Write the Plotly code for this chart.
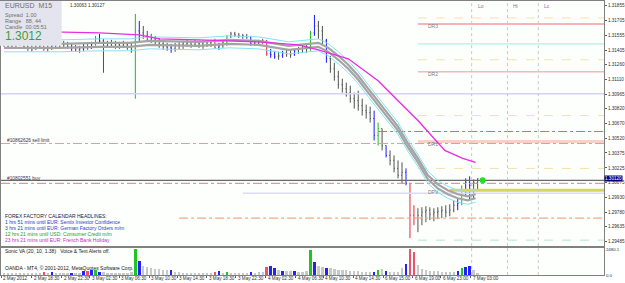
import plotly.graph_objects as go

# ---------------- data ----------------
HIGH = [1.3150,1.3149,1.3148,1.3150,1.3151,1.3149,1.3147,1.3146,1.3148,1.3149,
        1.3148,1.3146,1.3147,1.3148,1.3149,1.3150,1.3149,1.3147,1.3146,1.3145,
        1.3147,1.3148,1.3149,1.3155,1.3157,1.3152,1.3150,1.3151,1.3150,1.3149,
        1.3150,1.3149,1.3148,1.3177,1.3170,1.3165,1.3160,1.3157,1.3155,1.3153,
        1.3150,1.3148,1.3147,1.3148,1.3149,1.3150,1.3151,1.3150,1.3151,1.3150,
        1.3149,1.3150,1.3151,1.3152,1.3148,1.3150,1.3156,1.3159,1.3159,1.3158,
        1.3157,1.3157,1.3155,1.3151,1.3151,1.3152,1.3151,1.3142,1.3140,1.3139,
        1.3140,1.3142,1.3141,1.3142,1.3144,1.3145,1.3146,1.3160,1.3176,1.3170,
        1.3165,1.3152,1.3135,1.3128,1.3120,1.3112,1.3108,1.3105,1.3098,1.3100,
        1.3092,1.3086,1.3084,1.3080,1.3068,1.3062,1.3045,1.3040,1.3035,1.3030,
        1.3028,1.3022,1.3007,1.2985,1.2982,1.2983,1.2984,1.2983,1.2982,1.2983,
        1.2984,1.2985,1.2986,1.2990,1.2992,1.3005,1.3012,1.3014,1.3011,1.3012]
LOW = [1.3144,1.3143,1.3142,1.3144,1.3145,1.3142,1.3140,1.3139,1.3141,1.3143,
       1.3140,1.3139,1.3141,1.3142,1.3143,1.3144,1.3142,1.3140,1.3139,1.3138,
       1.3140,1.3141,1.3142,1.3145,1.3148,1.3118,1.3143,1.3144,1.3142,1.3142,
       1.3143,1.3141,1.3138,1.3092,1.3150,1.3152,1.3150,1.3148,1.3145,1.3143,
       1.3141,1.3140,1.3138,1.3139,1.3141,1.3142,1.3144,1.3143,1.3144,1.3143,
       1.3142,1.3144,1.3144,1.3142,1.3141,1.3143,1.3145,1.3153,1.3154,1.3153,
       1.3152,1.3152,1.3145,1.3145,1.3146,1.3147,1.3135,1.3133,1.3132,1.3131,
       1.3133,1.3134,1.3133,1.3135,1.3137,1.3138,1.3138,1.3140,1.3155,1.3152,
       1.3145,1.3128,1.3118,1.3110,1.3102,1.3098,1.3094,1.3088,1.3082,1.3080,
       1.3075,1.3072,1.3068,1.3050,1.3045,1.3040,1.3033,1.3025,1.3018,1.3012,
       1.3007,1.3005,1.2952,1.2965,1.2958,1.2965,1.2968,1.2970,1.2969,1.2971,
       1.2972,1.2973,1.2974,1.2978,1.2980,1.2985,1.2995,1.2990,1.2992,1.3000]
CLOSE = [1.3147,1.3145,1.3146,1.3148,1.3146,1.3144,1.3143,1.3142,1.3146,1.3145,
         1.3142,1.3143,1.3145,1.3146,1.3147,1.3146,1.3144,1.3143,1.3141,1.3142,
         1.3144,1.3143,1.3147,1.3152,1.3150,1.3145,1.3147,1.3148,1.3146,1.3145,
         1.3146,1.3144,1.3142,1.3160,1.3158,1.3155,1.3154,1.3152,1.3150,1.3147,
         1.3144,1.3143,1.3142,1.3145,1.3146,1.3147,1.3148,1.3146,1.3148,1.3147,
         1.3145,1.3148,1.3149,1.3143,1.3145,1.3148,1.3154,1.3157,1.3156,1.3155,
         1.3155,1.3154,1.3147,1.3148,1.3149,1.3150,1.3137,1.3136,1.3134,1.3135,
         1.3138,1.3137,1.3136,1.3140,1.3142,1.3143,1.3144,1.3158,1.3165,1.3160,
         1.3150,1.3132,1.3122,1.3114,1.3106,1.3102,1.3098,1.3092,1.3090,1.3085,
         1.3080,1.3078,1.3072,1.3055,1.3062,1.3045,1.3035,1.3030,1.3022,1.3015,
         1.3018,1.3007,1.2975,1.2972,1.2975,1.2978,1.2980,1.2976,1.2978,1.2979,
         1.2980,1.2978,1.2980,1.2985,1.2987,1.3000,1.3008,1.3005,1.3008,1.3012]
OPEN_FIRST = 1.3148
BAR_CLASS = ("nnnnnnnnnn" "rnbnnnnbnn" "brbgbnnnnn" "nnngbnnnnn" "nnbnnnnnnn"
             "nnnrbngnnn" "nnbnnnrbbn" "bnnbnnngbn" "nbnnnnnnnn" "nnnbgnbnnn"
             "nbrrnnnnnn" "nnnnbgbbnn")
VOLUME = [180,150,200,170,160,220,190,150,170,200,
          260,180,240,160,150,190,210,230,180,200,
          350,400,450,520,320,300,220,180,200,190,
          210,230,280,2480,1300,820,720,650,600,560,
          500,460,450,300,260,220,200,180,200,170,
          190,160,180,300,350,220,260,200,180,190,
          170,180,260,220,240,250,800,900,700,500,
          420,380,350,400,320,300,380,2400,1200,850,
          760,700,620,560,520,480,450,420,380,350,
          320,300,280,320,500,600,350,300,280,260,
          700,1100,2480,2200,1000,560,480,420,380,340,
          320,300,280,300,420,700,750,820,520,200]

# moving-average ribbon and slow average (sampled along the bars)
RIB_X = [0,14,24,31.5,36.5,49,56.5,64,71.5,76.5,79,81.5,84,86.5,89,91.5,94,96.5,99,
         101.5,104,106.5,109,111.5,114,116.5,118.5]
CYAN_UP = [1.3151,1.3151,1.3152,1.3152,1.3154,1.3153,1.3155,1.3154,1.3149,1.3151,1.3152,
           1.3147,1.3139,1.3130,1.3119,1.3106,1.3093,1.3081,1.3068,1.3051,1.3036,1.3019,
           1.3010,1.3004,1.3000,1.2998,1.3000]
GRAY_UP = [1.3147,1.3147,1.3148,1.3148,1.3150,1.3149,1.3151,1.3150,1.3145,1.3147,1.3148,
           1.3143,1.3135,1.3126,1.3115,1.3102,1.3089,1.3077,1.3064,1.3047,1.3032,1.3015,
           1.3006,1.3000,1.2996,1.2994,1.2996]
GRAY_DN = [1.3143,1.3143,1.3144,1.3144,1.3146,1.3145,1.3147,1.3146,1.3141,1.3143,1.3144,
           1.3139,1.3131,1.3122,1.3111,1.3098,1.3085,1.3073,1.3060,1.3043,1.3028,1.3011,
           1.3002,1.2996,1.2992,1.2990,1.2992]
CYAN_DN = [1.3139,1.3139,1.3140,1.3140,1.3142,1.3141,1.3143,1.3142,1.3137,1.3139,1.3140,
           1.3135,1.3127,1.3118,1.3107,1.3094,1.3081,1.3069,1.3056,1.3039,1.3024,1.3007,
           1.2998,1.2992,1.2988,1.2986,1.2988]
MAG_X = [0,14,24,34,39,49,64,74,79,86.5,94,99,104,110.75,115.25,118.5]
MAG_Y = [1.3160,1.3159,1.3158,1.3156,1.3152,1.3151,1.3149,1.3146,1.3141,1.3132,1.3110,
         1.3090,1.3070,1.3040,1.3032,1.3028]

# horizontal levels: price, start bar, colour, width, dash
LEVEL_PRICE = [1.3173,1.3167,1.3147,1.3131,1.3119,1.3097,1.3075,1.3059,1.3049,1.3047,
               1.3022,1.3010,1.3007,1.3000,1.2997,1.2972,1.2950]
LEVEL_START = [104,104,104,104,104,-1,104,94,104,-1,104,-1,-1,112,60,44,104]
LEVEL_COLOR = ["#f2e2a8","#f6b4b4","#b4efe6","#f2e2a8","#f6b8c0","#d4d4f2","#f2e2a8",
               "#ea6a3a","#f8d2c4","#e49aa0","#f2e2a8","#6a6a6a","#d88090","#d6d65e",
               "#dcdcf4","#f2a888","#b0e6dc"]
LEVEL_WIDTH = [1,2,1.2,1,1.5,1.5,1,1.2,3,1,1,1.2,1,3,1.5,1.2,1]
LEVEL_DASH = ["dash","solid","solid","dash","solid","solid","dash","dashdot","solid","dashdot",
              "dash","solid","dashdot","solid","solid","dashdot","dash"]
LEVEL_LABELS = ["DR3", "DR2", "DR1", "DPV"]
LEVEL_LABEL_PRICE = [1.3165, 1.3117, 1.3046, 1.2998]

Y_TICKS = [1.31855,1.31705,1.31555,1.31405,1.31260,1.31110,1.30965,1.30820,1.30670,
           1.30520,1.30375,1.30225,1.30075,1.29930,1.29780,1.29635,1.29485]
X_LABELS = ["2 May 2012","2 May 18:30","2 May 22:30","3 May 02:30","3 May 06:30",
            "3 May 10:30","3 May 14:30","3 May 18:30","3 May 22:30","4 May 02:30",
            "4 May 06:30","4 May 10:30","4 May 14:30","6 May 15:00","6 May 19:00",
            "6 May 23:00","7 May 03:00"]
X_LABEL_POS = [-0.75,7,14.5,21.5,29,36.5,43.5,51,58.25,65.75,73.25,80.25,87.75,95.25,
               102.75,109.75,117.25]
VLINES = [117.5,126.5,134.25]
VLINE_TXT = ["Lo","Hi","Lc"]
CUR_PRICE = 1.3012
DOT_X, DOT_Y = 120.25, 1.3010

# ---------------- figure ----------------
W, H = 625, 283
ML, MR, MT, MB = 1, 18, 0, 8
PW, PH = W - ML - MR, H - MT - MB
XR = [-0.75, -0.75 + PW / 4.0]
FONT = "Liberation Sans"

def py(ypx):  # paper y from pixel y (plot area)
    return 1 - ypx / PH

def px(xpx):
    return (xpx - ML) / PW

fig = go.Figure()
n = len(CLOSE)
OPEN = [OPEN_FIRST] + CLOSE[:-1]

# levels
for p, s, c, w, d in zip(LEVEL_PRICE, LEVEL_START, LEVEL_COLOR, LEVEL_WIDTH, LEVEL_DASH):
    fig.add_trace(go.Scatter(x=[max(s, XR[0]), XR[1]], y=[p, p], mode="lines",
                             line=dict(color=c, width=w, dash=d), hoverinfo="skip",
                             showlegend=False))
# vertical dotted lines
for v in VLINES:
    fig.add_trace(go.Scatter(x=[v, v], y=[1.2944, 1.3190], mode="lines",
                             line=dict(color="#c8c8c8", width=1, dash="dot"),
                             showlegend=False, hoverinfo="skip"))
    fig.add_trace(go.Scatter(x=[v, v], y=[0, 2600], mode="lines", xaxis="x2", yaxis="y2",
                             line=dict(color="#c8c8c8", width=1, dash="dot"),
                             showlegend=False, hoverinfo="skip"))

# ribbon
for arr, col, wd in [(CYAN_UP, "#86e2f2", 1), (CYAN_DN, "#86e2f2", 1),
                     (GRAY_UP, "#a4a4a4", 2.2), (GRAY_DN, "#a4a4a4", 2.2)]:
    fig.add_trace(go.Scatter(x=RIB_X, y=arr, mode="lines", line=dict(color=col, width=wd),
                             showlegend=False, hoverinfo="skip"))
fig.add_trace(go.Scatter(x=MAG_X, y=MAG_Y, mode="lines", line=dict(color="#e62ee6", width=1.4),
                         showlegend=False, hoverinfo="skip"))

PRICE_COL = {"n": "#505050", "b": "#1a1aff", "r": "#e8283c", "g": "#22b822"}
VOL_COL = {"n": "#c8c8c8", "b": "#2222ff", "r": "#f0506a", "g": "#22c422"}
for k, col in PRICE_COL.items():
    idx = [i for i in range(n) if BAR_CLASS[i] == k]
    fig.add_trace(go.Ohlc(x=idx, open=[OPEN[i] for i in idx], high=[HIGH[i] for i in idx],
                          low=[LOW[i] for i in idx], close=[CLOSE[i] for i in idx],
                          increasing=dict(line=dict(color=col, width=1)),
                          decreasing=dict(line=dict(color=col, width=1)),
                          tickwidth=0.2, showlegend=False, hoverinfo="skip"))

fig.add_trace(go.Scatter(x=[DOT_X], y=[DOT_Y], mode="markers",
                         marker=dict(color="#22e022", size=6), showlegend=False))

fig.add_trace(go.Bar(x=list(range(n)), y=VOLUME, xaxis="x2", yaxis="y2", width=0.6,
                     marker=dict(color=[VOL_COL[c] for c in BAR_CLASS], line=dict(width=0)),
                     showlegend=False, hoverinfo="skip"))

vol_top = 27.0 / PH
fig.update_layout(
    width=W, height=H, margin=dict(l=ML, r=MR, t=MT, b=MB),
    paper_bgcolor="white", plot_bgcolor="#fdfffd",
    font=dict(family=FONT, size=5, color="#303030"),
    xaxis=dict(domain=[0, 1], range=XR, showticklabels=False, ticks="", showgrid=False,
               zeroline=False, showline=True, mirror=True, linecolor="#808080", linewidth=1,
               anchor="y", rangeslider=dict(visible=False)),
    yaxis=dict(domain=[1 - 246.0 / PH, 1], range=[1.2944, 1.3190], side="right",
               tickvals=Y_TICKS, tickformat=".5f", ticks="outside", ticklen=2,
               tickcolor="#606060", tickfont=dict(size=4.6, color="#303030", family=FONT),
               showgrid=False, zeroline=False, showline=True, mirror=True,
               linecolor="#808080", linewidth=1, anchor="x"),
    xaxis2=dict(domain=[0, 1], range=XR, matches="x", anchor="y2", tickvals=X_LABEL_POS,
                ticktext=[""] * len(X_LABEL_POS), ticks="outside", ticklen=2,
                tickcolor="#606060", showgrid=False, zeroline=False, showline=True,
                mirror=True, linecolor="#808080", linewidth=1),
    yaxis2=dict(domain=[0, vol_top], range=[0, 2600], side="right", anchor="x2",
                tickvals=[2480.1, 0], ticktext=["2480.1", "0.0"], ticks="",
                tickfont=dict(size=4.4, color="#303030", family=FONT), showgrid=False,
                zeroline=False, showline=True, mirror=True, linecolor="#808080", linewidth=1),
    bargap=0,
)

ann = []
def A(x, y, t, size=5, color="#303030", xref="paper", yref="paper", xanchor="left",
      yanchor="middle", **kw):
    ann.append(dict(x=x, y=y, text=t, xref=xref, yref=yref, xanchor=xanchor, yanchor=yanchor,
                    showarrow=False, font=dict(size=size, color=color, family=FONT), **kw))

for t, pos in zip(X_LABELS, X_LABEL_POS):
    A(pos, py(279), t, size=4.6, xref="x")
# info box
fig.add_shape(type="rect", xref="paper", yref="paper", x0=px(0), x1=px(62), y0=py(45), y1=1,
              fillcolor="#e4e4ee", line=dict(width=0), layer="above")
A(px(3), py(5), "EURUSD&nbsp;&nbsp;M15", size=7, color="#6e6e6e")
A(px(3), py(14), "Spread&nbsp;&nbsp;1.00", size=5.5, color="#6e6e6e")
A(px(3), py(20), "Range&nbsp;&nbsp;&nbsp;88, 44", size=5.5, color="#6e6e6e")
A(px(3), py(26), "Candle&nbsp;&nbsp;00:05:51", size=5.5, color="#6e6e6e")
A(px(3), py(35), "1.3012", size=12, color="#3a9e3a")
A(px(68), py(5), "1.30063 1.30127", size=4.6, color="#303030")
# order labels
A(px(5), py(140), "#10862626 sell limit", size=4.8, color="#303050")
A(px(5), py(178), "#10802551 buy", size=4.8, color="#303050")
# calendar
A(px(3), py(216), "FOREX FACTORY CALENDAR HEADLINES:", size=5, color="#202040")
A(px(3), py(222), "1 hrs 51 mins until EUR: Sentix Investor Confidence", size=5, color="#2a3ad0")
A(px(3), py(228), "3 hrs 21 mins until EUR: German Factory Orders m/m", size=5, color="#2a3ad0")
A(px(3), py(234), "12 hrs 21 mins until USD: Consumer Credit m/m", size=5, color="#22a022")
A(px(3), py(240), "23 hrs 21 mins until EUR: French Bank Holiday", size=5, color="#c030c0")
A(px(3), py(251), "Sonic VA (20, 10, 1.38)&nbsp;&nbsp;&nbsp;Voice &amp; Text Alerts off.",
  size=5, color="#202020")
A(px(3), py(268), "OANDA - MT4, © 2001-2012, MetaQuotes Software Corp.", size=5, color="#202020")
# level labels
for t, p in zip(LEVEL_LABELS, LEVEL_LABEL_PRICE):
    A(106, p, t, size=5, color="#808080", xref="x", yref="y")
for t, v in zip(VLINE_TXT, VLINES):
    A(v + 1, py(5), t, size=5, color="#8a6ab0", xref="x")
# current price tag
A(1.0, CUR_PRICE, "1.30120", size=4.6, color="white", yref="y", bgcolor="#000080",
  borderpad=0)
fig.update_layout(annotations=ann)

fig.write_html("out.html")
